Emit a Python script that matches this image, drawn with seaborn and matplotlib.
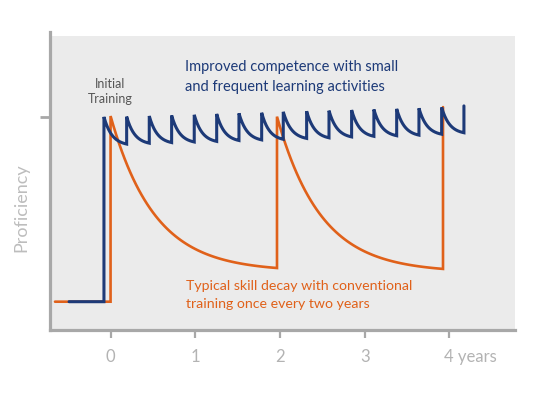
import numpy as np
import pandas as pd
import matplotlib
matplotlib.use("Agg")
import matplotlib.pyplot as plt
from matplotlib.patches import Rectangle
import matplotlib.transforms as mtransforms
import seaborn as sns

# ---------------- data ----------------
baseline = 9.5
# conventional training: start of line, training events, peaks after each event, troughs before next event
orange_start = -0.656
orange_events = [0.0, 1.965, 3.925]
orange_peaks = [71.8, 71.6, 74.8]
orange_troughs = [20.8, 20.5]

# frequent small learning activities
blue_start = -0.49
blue_events = [-0.078, 0.190, 0.457, 0.721, 0.988, 1.253, 1.516, 1.784, 2.039,
               2.315, 2.579, 2.846, 3.109, 3.378, 3.641, 3.909, 4.172]
blue_peaks = [71.5, 71.6, 71.8, 72.0, 72.2, 72.5, 72.7, 72.9, 73.2,
              73.4, 73.6, 73.8, 74.0, 74.2, 74.4, 74.7, 75.2]
blue_troughs = [62.4, 62.7, 62.9, 63.1, 63.3, 63.6, 63.8, 64.0,
                64.3, 64.5, 64.8, 65.0, 65.2, 65.4, 65.7, 66.2]

x_ticks = [0, 1, 2, 3, 4]
x_tick_labels = ["0", "1", "2", "3", "4 years"]
y_tick = [71.5]

BLUE = "#1d3a78"
ORANGE = "#e0611a"


def sawtooth(start, events, peaks, troughs, steep):
    """Polyline: flat baseline, vertical rise at each event, decay curve to the next trough."""
    xs = [start, events[0]]
    ys = [baseline, baseline]
    for i in range(len(events)):
        xs.append(events[i])
        ys.append(peaks[i])
        if i < len(troughs):
            s = np.linspace(0, 1, 60)
            shape = (np.exp(-steep * s) - np.exp(-steep)) / (1 - np.exp(-steep))
            xs.extend(events[i] + s * (events[i + 1] - events[i]))
            ys.extend(troughs[i] + (peaks[i] - troughs[i]) * shape)
    return xs, ys


ox, oy = sawtooth(orange_start, orange_events, orange_peaks, orange_troughs, 3.8)
bx, by = sawtooth(blue_start, blue_events, blue_peaks, blue_troughs, 2.8)

df = pd.concat([
    pd.DataFrame({"t": ox, "v": oy, "series": "conventional"}),
    pd.DataFrame({"t": bx, "v": by, "series": "frequent"}),
], ignore_index=True)

# ---------------- figure ----------------
sns.set_theme(style="white")
plt.rcParams["font.family"] = ["Lato", "DejaVu Sans"]

fig = plt.figure(figsize=(5.40, 3.98), dpi=100)
ax = fig.add_axes([50 / 540, 1 - 330 / 398, 465 / 540, 298 / 398])
ax.patch.set_visible(False)
ax.add_patch(Rectangle((0, 0), 1, (330 - 36) / 298, transform=ax.transAxes,
                       facecolor="#ebebeb", edgecolor="none", zorder=0))

sns.lineplot(data=df, x="t", y="v", hue="series", hue_order=["conventional", "frequent"],
             palette={"conventional": ORANGE, "frequent": BLUE}, sort=False,
             estimator=None, units="series", legend=False, ax=ax)
for line, lw in zip(ax.get_lines(), [1.9, 2.2]):
    line.set_linewidth(lw)
    line.set_solid_joinstyle("miter")
    line.set_zorder(3)

ax.set_xlim(-0.715, 4.775)
ax.set_ylim(0, 100)

spine_col = "#a8a8a8"
for side in ["top", "right"]:
    ax.spines[side].set_visible(False)
for side in ["left", "bottom"]:
    ax.spines[side].set_color(spine_col)
    ax.spines[side].set_linewidth(2.3)
    ax.spines[side].set_zorder(4)

ax.set_xticks(x_ticks)
ax.set_xticklabels(x_tick_labels)
ax.set_yticks(y_tick)
ax.set_yticklabels([])
ax.tick_params(axis="x", direction="out", length=6, width=1.6, color=spine_col,
               pad=8, labelsize=12, labelcolor="#b3b3b3", bottom=True)
ax.tick_params(axis="y", direction="out", length=7.5, width=2.0, color=spine_col, left=True)
last = ax.get_xticklabels()[-1]
last.set_ha("left")
last.set_transform(last.get_transform() + mtransforms.ScaledTranslation(-5 / 100, 0, fig.dpi_scale_trans))

ax.set_xlabel("")
ax.set_ylabel("Proficiency", fontsize=13, color="#bdbdbd")
ax.yaxis.set_label_coords((29 - 50) / 465, (330 - 207.5) / 298)

# annotations
ax.text(0.0, 81.1, "Initial", ha="center", va="baseline", fontsize=9, color="#555555")
ax.text(0.0, 76.3, "Training", ha="center", va="baseline", fontsize=9, color="#555555")

ax.text(0.878, 86.9, "Improved competence with small", ha="left", va="baseline",
        fontsize=10.5, color=BLUE)
ax.text(0.878, 80.2, "and frequent learning activities", ha="left", va="baseline",
        fontsize=10.5, color=BLUE)

ax.text(0.890, 13.4, "Typical skill decay with conventional", ha="left", va="baseline",
        fontsize=10.2, color=ORANGE)
ax.text(0.890, 7.5, "training once every two years", ha="left", va="baseline",
        fontsize=10.2, color=ORANGE)

fig.savefig("out.png", dpi=100)
